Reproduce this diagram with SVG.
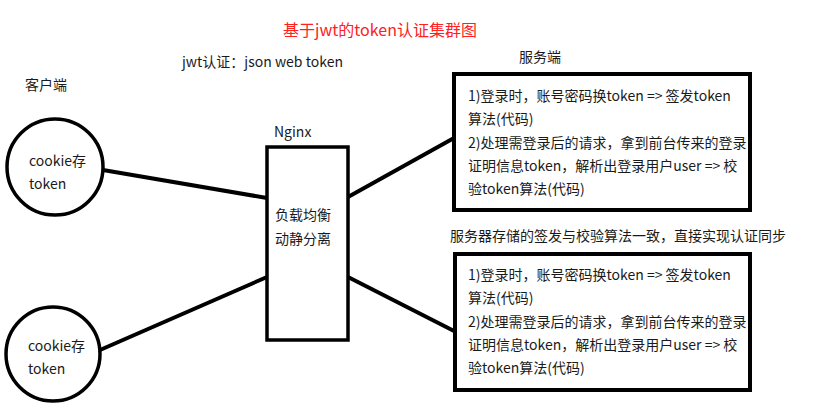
<svg xmlns="http://www.w3.org/2000/svg" width="819" height="415" viewBox="0 0 819 415">
<style>
text{font-family:"Noto Sans CJK SC","Noto Sans",sans-serif;fill:#1a1a1a;font-size:14px}
.t{fill:#ff2020;font-size:16px}
.shape{fill:#fff;stroke:#000;stroke-width:3.5}
.box{fill:#fff;stroke:#000;stroke-width:4}
.conn{stroke:#000;stroke-width:4;fill:none;stroke-linecap:butt}
</style>
<rect width="819" height="415" fill="#fff"/>
<text class="t" x="380" y="36" text-anchor="middle">基于jwt的token认证集群图</text>
<text x="182" y="67">jwt认证：json web token</text>
<text x="519" y="62">服务端</text>
<text x="25" y="90">客户端</text>
<g id="connectors">
<line class="conn" x1="103" y1="170" x2="267" y2="198"/>
<line class="conn" x1="100" y1="350" x2="267" y2="277"/>
<line class="conn" x1="348" y1="197" x2="454" y2="138"/>
<line class="conn" x1="348" y1="277" x2="456" y2="332"/>
</g>
<g id="client1">
<circle class="shape" cx="55" cy="167" r="48"/>
<text x="29" y="166">cookie存</text>
<text x="29" y="189">token</text>
</g>
<g id="client2">
<circle class="shape" cx="53" cy="354" r="47"/>
<text x="28" y="351">cookie存</text>
<text x="28" y="374">token</text>
</g>
<g id="nginx">
<text x="274" y="137">Nginx</text>
<rect class="shape" x="267" y="147" width="81" height="193"/>
<text x="275" y="220">负载均衡</text>
<text x="275" y="244">动静分离</text>
</g>
<g id="server1">
<rect class="box" x="454" y="74" width="296" height="136"/>
<text x="468" y="101">1)登录时，账号密码换token =&gt; 签发token</text>
<text x="468" y="124">算法(代码)</text>
<text x="468" y="148">2)处理需登录后的请求，拿到前台传来的登录</text>
<text x="468" y="171">证明信息token，解析出登录用户user =&gt; 校</text>
<text x="468" y="194">验token算法(代码)</text>
</g>
<text x="450" y="241">服务器存储的签发与校验算法一致，直接实现认证同步</text>
<g id="server2">
<rect class="box" x="455" y="254" width="295" height="136"/>
<text x="468" y="280">1)登录时，账号密码换token =&gt; 签发token</text>
<text x="468" y="303">算法(代码)</text>
<text x="468" y="327">2)处理需登录后的请求，拿到前台传来的登录</text>
<text x="468" y="350">证明信息token，解析出登录用户user =&gt; 校</text>
<text x="468" y="373">验token算法(代码)</text>
</g>
</svg>
